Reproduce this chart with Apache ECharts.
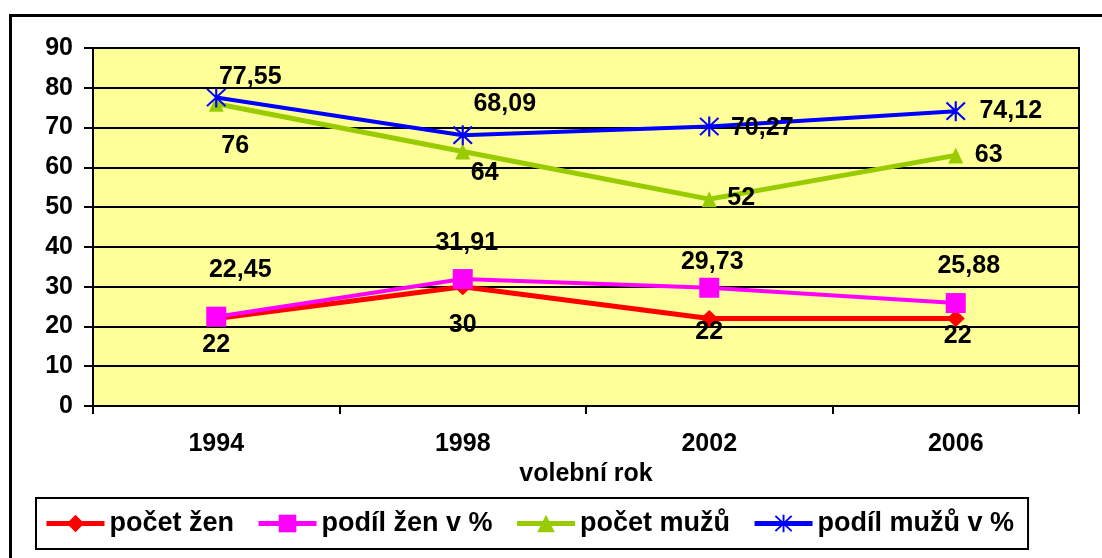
<!DOCTYPE html>
<html><head><meta charset="utf-8">
<script src="https://cdn.jsdelivr.net/npm/echarts@6/dist/echarts.min.js"></script>
<style>html,body{margin:0;padding:0;background:#fff}#c{width:1102px;height:558px}</style>
</head><body><div id="c"></div>
<script>
const years = ['1994', '1998', '2002', '2006'];
const pocetZen = [22, 30, 22, 22];
const podilZen = [22.45, 31.91, 29.73, 25.88];
const pocetMuzu = [76, 64, 52, 63];
const podilMuzu = [77.55, 68.09, 70.27, 74.12];
const seriesNames = ['počet žen', 'podíl žen v %', 'počet mužů', 'podíl mužů v %'];
const yTicks = [0, 90, 10];

// label offsets (layout only)
const offZen = [[0, 27], [0, 38], [0, 14], [2, 18]];
const offPodilZen = [[24, -47], [4, -36], [3, -26], [13, -37]];
const offMuzu = [[19, 42], [22, 22], [32, -1], [33, 0]];
const offPodilMuzu = [[34, -20], [42, -31], [53, 2], [55, 0]];

const FONT = "'Liberation Sans', Arial, sans-serif";
const asterisk = 'path://M9,0L11,0L11,20L9,20Z M0.7,2.1L2.1,0.7L19.3,17.9L17.9,19.3Z M17.9,0.7L19.3,2.1L2.1,19.3L0.7,17.9Z';

function fmt(v) { return String(v).replace('.', ','); }
function mk(values, offs) {
  return values.map((v, i) => ({ value: v, label: { offset: offs[i] } }));
}
function series(name, values, offs, color, symbol, size, width) {
  return {
    name: name, type: 'line', data: mk(values, offs),
    symbol: symbol, symbolSize: size, showAllSymbol: true,
    lineStyle: { color: color, width: width },
    itemStyle: { color: color },
    label: {
      show: true, position: 'inside', color: '#000',
      fontFamily: FONT, fontWeight: 'bold', fontSize: 25,
      formatter: p => fmt(p.value)
    },
    emphasis: { disabled: true },
    animation: false
  };
}

const chart = echarts.init(document.getElementById('c'), null, { renderer: 'canvas' });
chart.setOption({
  animation: false,
  backgroundColor: '#fff',
  graphic: [{
    type: 'rect', left: 8, top: 13, shape: { x: 0, y: 0, width: 1110, height: 560 },
    style: { fill: 'none', stroke: '#000', lineWidth: 3 }, silent: true, z: 0
  }],
  grid: {
    left: 93, top: 48, right: 23, bottom: 152, show: true,
    backgroundColor: '#FFFF99', borderColor: '#000', borderWidth: 2
  },
  legend: {
    left: 36, top: 498, orient: 'horizontal',
    data: seriesNames,
    itemWidth: 58, itemHeight: 22, itemGap: 22,
    padding: [12, 14, 12, 8],
    borderColor: '#000', borderWidth: 2, backgroundColor: '#fff',
    lineStyle: { width: 5 },
    textStyle: { fontFamily: FONT, fontWeight: 'bold', fontSize: 27, color: '#000' }
  },
  xAxis: {
    type: 'category', data: years, boundaryGap: true,
    name: 'volební rok', nameLocation: 'middle', nameGap: 54,
    nameTextStyle: { fontFamily: FONT, fontWeight: 'bold', fontSize: 25, color: '#000' },
    axisLine: { lineStyle: { color: '#000', width: 2 } },
    axisTick: { show: true, alignWithLabel: false, length: 8, lineStyle: { color: '#000', width: 2 } },
    axisLabel: { fontFamily: FONT, fontWeight: 'bold', fontSize: 25, color: '#000', margin: 26 },
    splitLine: { show: false }
  },
  yAxis: {
    type: 'value', min: yTicks[0], max: yTicks[1], interval: yTicks[2],
    axisLine: { show: true, lineStyle: { color: '#000', width: 2 } },
    axisTick: { show: true, length: 9, lineStyle: { color: '#000', width: 2 } },
    axisLabel: { fontFamily: FONT, fontWeight: 'bold', fontSize: 25, color: '#000', margin: 20 },
    splitLine: { show: true, lineStyle: { color: '#000', width: 2 } }
  },
  series: [
    series(seriesNames[0], pocetZen, offZen, '#FF0000', 'diamond', [18, 17], 5),
    series(seriesNames[1], podilZen, offPodilZen, '#FF00FF', 'rect', [20, 20], 4),
    series(seriesNames[2], pocetMuzu, offMuzu, '#99CC00', 'triangle', [15, 16], 5),
    series(seriesNames[3], podilMuzu, offPodilMuzu, '#0000FF', asterisk, [20, 20], 4)
  ]
});
</script></body></html>
